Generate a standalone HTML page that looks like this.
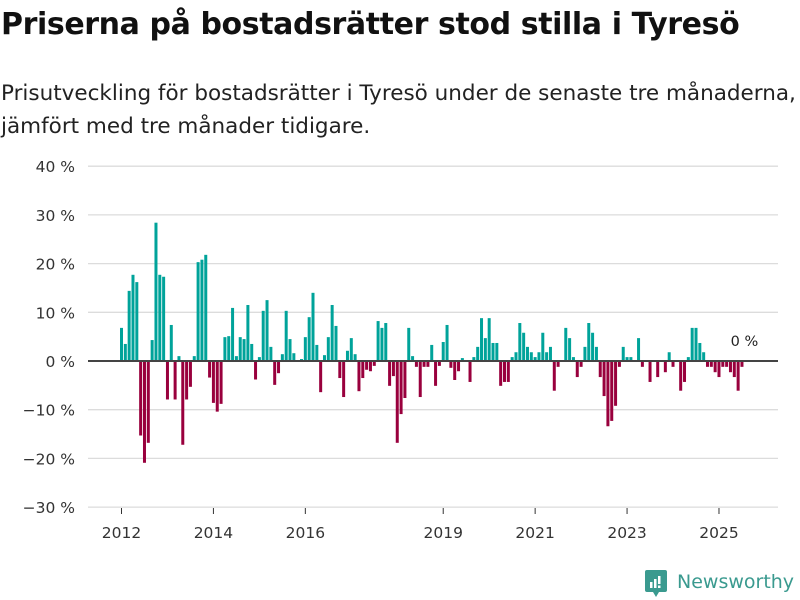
<!DOCTYPE html>
<html><head><meta charset="utf-8"><style>
body{margin:0;background:#fff;font-family:"DejaVu Sans","Liberation Sans",sans-serif;}
#wrap{position:relative;width:800px;height:600px;overflow:hidden;}
h1{position:absolute;left:1px;top:7px;margin:0;font-size:30px;font-weight:bold;color:#111;letter-spacing:-0.4px;white-space:nowrap;font-family:"DejaVu Sans",sans-serif;}
.sub{position:absolute;left:1px;top:77px;margin:0;font-size:21.5px;line-height:33px;color:#222;white-space:nowrap;font-family:"DejaVu Sans",sans-serif;}
</style></head><body>
<div id="wrap">
<h1>Priserna på bostadsrätter stod stilla i Tyresö</h1>
<p class="sub">Prisutveckling för bostadsrätter i Tyresö under de senaste tre månaderna,<br>jämfört med tre månader tidigare.</p>
<svg id="chart" width="800" height="600" style="position:absolute;left:0;top:0"></svg>
<div style="position:absolute;left:645px;top:570px;height:28px;">
<svg width="24" height="30" style="position:absolute;left:0;top:0"><rect x="0" y="0" width="22" height="22" rx="2" fill="#3a9a8f"/><polygon points="8,22 14,22 11,27" fill="#3a9a8f"/><rect x="5" y="12" width="2.5" height="6" fill="#fff"/><rect x="9" y="9" width="2.5" height="9" fill="#fff"/><rect x="13" y="6" width="2.5" height="8" fill="#fff"/><rect x="13" y="15.5" width="2.5" height="2.5" fill="#fff"/></svg>
<span style="position:absolute;left:32px;top:1px;font-size:19px;color:#3a9a8f;white-space:nowrap;font-family:'DejaVu Sans',sans-serif;">Newsworthy</span>
</div>
</div>
<script>
const values = [6.8,3.5,14.4,17.7,16.2,-15.3,-20.9,-16.8,4.3,28.4,17.7,17.3,-7.9,7.4,-7.9,1.0,-17.2,-7.9,-5.3,1.0,20.3,20.8,21.8,-3.4,-8.6,-10.4,-8.8,4.9,5.1,10.9,1.0,4.9,4.5,11.5,3.5,-3.8,0.8,10.3,12.5,2.9,-4.9,
-2.5,1.4,10.3,4.5,1.6,0.2,0.4,4.9,9.0,14.0,3.3,
-6.4,1.2,4.9,11.5,7.2,-3.5,-7.4,2.1,4.7,1.4,-6.2,-3.5,-1.8,-2.1,-1.0,8.2,6.8,7.8,-5.1,-3.1,-16.8,-10.9,-7.6,6.8,1.0,-1.2,-7.4,-1.2,-1.2,
3.3,-5.1,-1.0,3.9,7.4,-1.4,-3.9,-2.1,0.6,0,-4.3,0.8,2.9,8.8,4.7,8.8,3.7,3.7,-5.1,-4.3,-4.3,0.8,1.8,7.8,5.8,2.9,1.8,0.8,1.8,5.8,1.8,2.9,-6.1,-1.2,0,6.8,4.7,0.8,-3.3,-1.2,2.9,7.8,
5.8,2.9,-3.3,-7.2,-13.4,-12.3,-9.2,-1.2,2.9,0.8,0.8,0,4.7,-1.2,0,-4.3,0,-3.3,0,-2.3,1.8,-1.2,0,-6.1,-4.3,0.8,6.8,6.8,3.7,1.8,-1.2,-1.2,-2.3,-3.3,-1.2,-1.2,-2.3,-3.3,-6.1,-1.2];
const startYear = 2012;
const yTicks = [40,30,20,10,0,-10,-20,-30];
const xTickYears = [2012,2014,2016,2019,2021,2023,2025];
const lastLabel = "0 %";

const svg = document.getElementById('chart');
const NS = 'http://www.w3.org/2000/svg';
const FONT = 'DejaVu Sans, Liberation Sans, sans-serif';
const yScale = v => 361 - v * 4.87;
const xScale = i => 120 + i * 3.83;
const xYear = y => xScale((y - startYear) * 12) + 1.5;
function mk(tag, attrs){const e=document.createElementNS(NS,tag);for(const k in attrs)e.setAttribute(k,attrs[k]);svg.appendChild(e);return e;}

yTicks.forEach(t=>{
  if(t!==0){
    const g=mk('line',{x1:88,x2:778,y1:yScale(t),y2:yScale(t),stroke:'#dcdcdc','stroke-width':1.3});
    
    
  }
  const tx=mk('text',{x:75,y:yScale(t)+6,'text-anchor':'end','font-size':15.5,fill:'#333','font-family':FONT});
  tx.textContent=(t<0?'\u2212'+(-t):t)+' %';
  
  
});
values.forEach((v,i)=>{
  if(v===0)return;
  const y0=yScale(0),y1=yScale(v);
  const r=mk('rect',{x:xScale(i),y:Math.min(y0,y1),width:3,height:Math.abs(y1-y0),fill:v>0?'#00a39a':'#99003d'});
  
  
});
const zl=mk('line',{x1:88,x2:778,y1:yScale(0),y2:yScale(0),stroke:'#444','stroke-width':2});


xTickYears.forEach(yr=>{
  const x=xYear(yr);
  const tk=mk('line',{x1:x,x2:x,y1:508,y2:514,stroke:'#333','stroke-width':1});
  
  
  const tx=mk('text',{x:x,y:538,'text-anchor':'middle','font-size':15.5,fill:'#333','font-family':FONT});
  tx.textContent=yr;
  
  
});
const li=values.length-1;
const lab=mk('text',{x:xScale(li)+4,y:yScale(0)-15,'text-anchor':'middle','font-size':14.5,fill:'#222','font-family':FONT});
lab.textContent=lastLabel;


</script>
</body></html>
